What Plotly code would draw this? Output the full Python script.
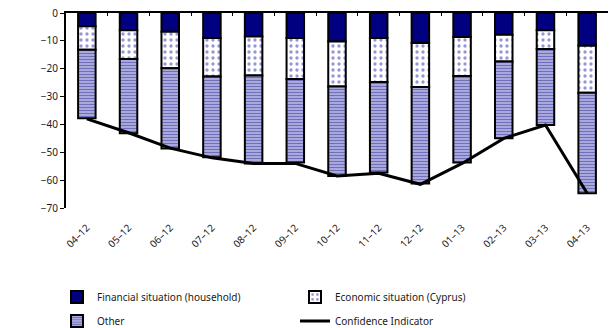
import plotly.graph_objects as go

categories = ["04–12", "05–12", "06–12", "07–12", "08–12", "09–12", "10–12",
              "11–12", "12–12", "01–13", "02–13", "03–13", "04–13"]
financial = [-4.8, -6.2, -6.7, -9.0, -8.4, -9.0, -10.2, -9.0, -10.8, -8.6, -7.8, -6.2, -11.8]
economic = [-8.4, -10.3, -13.1, -13.8, -14.0, -14.7, -16.2, -15.8, -15.8, -14.0, -9.6, -6.7, -16.8]
other = [-24.6, -26.7, -28.8, -29.0, -31.6, -30.0, -32.1, -32.5, -34.6, -31.1, -27.6, -27.3, -36.1]
confidence = [-38.0, -43.0, -48.5, -52.0, -54.0, -54.0, -58.5, -57.5, -61.5, -54.0, -45.0, -40.2, -64.7]
y_ticks = [0, -10, -20, -30, -40, -50, -60, -70]
y_ticktext = ["0", "−10", "−20", "−30", "−40", "−50", "−60", "−70"]

FONT = "Noto Sans"
bar_w = 0.42
line_border = dict(color="black", width=2)

fig = go.Figure()
fig.add_trace(go.Bar(
    x=categories, y=financial, name="Financial situation (household)",
    width=bar_w, legend="legend",
    marker=dict(color="#000080", line=line_border)))
fig.add_trace(go.Bar(
    x=categories, y=economic, name="Economic situation (Cyprus)",
    width=bar_w, legend="legend",
    marker=dict(color="white", line=line_border,
                pattern=dict(shape=".", fgcolor="#2e2eb0", bgcolor="white",
                             size=6, solidity=0.25))))
fig.add_trace(go.Bar(
    x=categories, y=other, name="Other",
    width=bar_w, legend="legend2",
    marker=dict(color="white", line=line_border,
                pattern=dict(shape="-", fgcolor="#1a1a8a", bgcolor="#c4c4ec",
                             size=3, solidity=0.55))))
fig.add_trace(go.Scatter(
    x=categories, y=confidence, name="Confidence Indicator", mode="lines",
    legend="legend2",
    line=dict(color="black", width=3), xaxis="x2", yaxis="y"))

legend_common = dict(orientation="h", x=57 / 611, xref="container", xanchor="left",
                     yanchor="middle", yref="container",
                     entrywidth=193, entrywidthmode="pixels",
                     font=dict(family=FONT, size=10, color="#1a1a1a"),
                     traceorder="normal", itemwidth=30, bgcolor="rgba(0,0,0,0)")

fig.update_layout(
    width=611, height=328,
    margin=dict(l=66, r=3, t=13, b=120),
    paper_bgcolor="white", plot_bgcolor="white",
    barmode="relative", bargap=0.58,
    font=dict(family=FONT, size=10, color="#1a1a1a"),
    showlegend=True,
    legend=dict(legend_common, y=1 - 297 / 328),
    legend2=dict(legend_common, y=1 - 321 / 328),
    xaxis=dict(type="category", range=[-0.5, 12.5], showline=False, ticks="",
               tickangle=-45, showgrid=False, zeroline=False,
               ticklabelstandoff=11, automargin=False,
               tickfont=dict(family=FONT, size=10)),
    xaxis2=dict(type="category", overlaying="x", side="top", range=[-0.5, 12.5],
                showline=True, linecolor="black", linewidth=2,
                ticks="inside", ticklen=3, tickwidth=1, tickcolor="black",
                tickson="boundaries", showticklabels=False, showgrid=False,
                zeroline=False),
    yaxis=dict(range=[-70, 0], tickvals=y_ticks, ticktext=y_ticktext,
               showline=True, linecolor="black", linewidth=2,
               ticks="outside", ticklen=4, tickwidth=1, tickcolor="black",
               showgrid=False, zeroline=False, automargin=False,
               tickfont=dict(family=FONT, size=10)),
)

fig.write_html("out.html")
